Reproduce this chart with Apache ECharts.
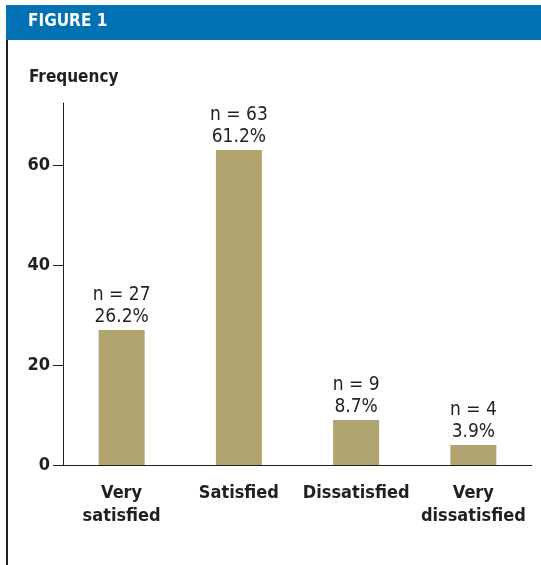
<!DOCTYPE html>
<html>
<head>
<meta charset="utf-8">
<script src="https://cdn.jsdelivr.net/npm/echarts@6/dist/echarts.min.js"></script>
<style>
  html, body { margin: 0; padding: 0; background: #fff; }
  #chart { width: 541px; height: 565px; }
</style>
</head>
<body>
<div id="chart"></div>
<script>
const categories = ["Very\nsatisfied", "Satisfied", "Dissatisfied", "Very\ndissatisfied"];
const counts = [27, 63, 9, 4];
const percents = ["26.2%", "61.2%", "8.7%", "3.9%"];
const yTicks = [0, 20, 40, 60];

const FONT = '"DejaVu Sans Condensed", "Liberation Sans Narrow", sans-serif';
const INK = "#231f20";

const chart = echarts.init(document.getElementById("chart"), null, { renderer: "canvas" });

const option = {
  animation: false,
  graphic: [
    // blue header band
    { type: "rect", left: 6, top: 5, shape: { width: 535, height: 35 }, style: { fill: "#0071b3" } },
    // left frame line
    { type: "rect", left: 6, top: 40, shape: { width: 2, height: 525 }, style: { fill: "#231f20" } },
    {
      type: "text", left: 28, top: 13,
      style: { text: "FIGURE 1", fill: "#fff", font: 'bold 17px ' + FONT }
    },
    {
      type: "text", left: 29, top: 69,
      style: { text: "Frequency", fill: INK, font: 'bold 17px ' + FONT }
    }
  ],
  grid: { left: 63, right: 9, top: 103, bottom: 100, containLabel: false },
  xAxis: {
    type: "category",
    data: categories,
    axisLine: { lineStyle: { color: INK, width: 1 } },
    axisTick: { alignWithLabel: true, length: 11, lineStyle: { color: INK } },
    axisLabel: {
      interval: 0,
      margin: 17,
      color: INK,
      fontFamily: FONT,
      fontWeight: "bold",
      fontSize: 18,
      lineHeight: 23
    }
  },
  yAxis: {
    type: "value",
    min: 0,
    max: 72.4,
    interval: 20,
    splitLine: { show: false },
    axisLine: { show: true, lineStyle: { color: INK, width: 1 } },
    axisTick: { show: true, length: 10, customValues: yTicks, lineStyle: { color: INK } },
    axisLabel: {
      customValues: yTicks,
      margin: 13,
      color: INK,
      fontFamily: FONT,
      fontWeight: "bold",
      fontSize: 18
    }
  },
  series: [
    {
      type: "bar",
      data: counts,
      barWidth: 46,
      itemStyle: { color: "#b0a56e" },
      label: {
        show: true,
        position: "top",
        distance: 2,
        color: INK,
        fontFamily: FONT,
        fontSize: 19,
        lineHeight: 22,
        formatter: (p) => "n = " + counts[p.dataIndex] + "\n" + percents[p.dataIndex]
      }
    }
  ]
};

chart.setOption(option);
</script>
</body>
</html>
